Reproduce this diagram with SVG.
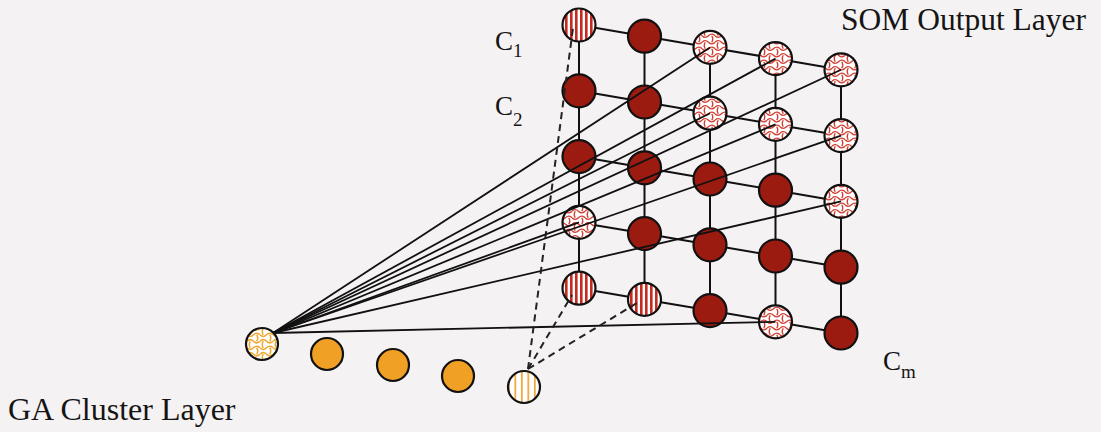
<svg xmlns="http://www.w3.org/2000/svg" width="1101" height="432" viewBox="0 0 1101 432">
<style>
.bg{fill:#f5f2f3}
.node{stroke:#111;stroke-width:2.2}
.solid{fill:#9b1b10}
.hatch{fill:url(#hatchRed)}
.stripe{fill:url(#stripeRed)}
.osolid{fill:#f0a024}
.ohatch{fill:url(#hatchOrange)}
.ostripe{fill:url(#stripeOrange)}
.grid line{stroke:#111;stroke-width:2}
.fan line{stroke:#111;stroke-width:1.8}
.dash line{stroke:#222;stroke-width:2;stroke-dasharray:7 5}
.lbl{font-family:"Liberation Serif","Times New Roman",serif;fill:#151515}
</style>
<defs>
<pattern id="hatchRed" patternUnits="userSpaceOnUse" width="13" height="13">
<rect width="13" height="13" fill="#fff"/>
<path d="M0,3.25 q3.25,-3.25 6.5,0 t6.5,0 M0,9.75 q3.25,3.25 6.5,0 t6.5,0 M3.25,3.25 q-2,3.25 0,6.5 M9.75,9.75 q2,3.25 0,6.5 M9.75,-3.25 q2,3.25 0,6.5" fill="none" stroke="#d23e32" stroke-width="1.4"/>
</pattern>
<pattern id="hatchOrange" patternUnits="userSpaceOnUse" width="13" height="13">
<rect width="13" height="13" fill="#fff"/>
<path d="M0,3.25 q3.25,-3.25 6.5,0 t6.5,0 M0,9.75 q3.25,3.25 6.5,0 t6.5,0 M3.25,3.25 q-2,3.25 0,6.5 M9.75,9.75 q2,3.25 0,6.5 M9.75,-3.25 q2,3.25 0,6.5" fill="none" stroke="#f0a830" stroke-width="1.5"/>
</pattern>
<pattern id="stripeRed" patternUnits="userSpaceOnUse" width="5" height="10">
<rect width="5" height="10" fill="#fff"/>
<rect x="0" width="2.6" height="10" fill="#c42a20"/>
</pattern>
<pattern id="stripeOrange" patternUnits="userSpaceOnUse" width="6.5" height="10">
<rect width="6.5" height="10" fill="#fff"/>
<rect x="1" width="1.6" height="10" fill="#f0a024"/>
</pattern>
</defs>
<rect class="bg" width="1101" height="432"/>

<g id="grid-connectors" class="grid">
<line x1="579" y1="25" x2="644.5" y2="36.2"/><line x1="644.5" y1="36.2" x2="710" y2="47.4"/><line x1="710" y1="47.4" x2="775.5" y2="58.6"/><line x1="775.5" y1="58.6" x2="841" y2="69.8"/>
<line x1="579" y1="90.8" x2="644.5" y2="102"/><line x1="644.5" y1="102" x2="710" y2="113.2"/><line x1="710" y1="113.2" x2="775.5" y2="124.4"/><line x1="775.5" y1="124.4" x2="841" y2="135.6"/>
<line x1="579" y1="156.6" x2="644.5" y2="167.8"/><line x1="644.5" y1="167.8" x2="710" y2="179"/><line x1="710" y1="179" x2="775.5" y2="190.2"/><line x1="775.5" y1="190.2" x2="841" y2="201.4"/>
<line x1="579" y1="222.4" x2="644.5" y2="233.6"/><line x1="644.5" y1="233.6" x2="710" y2="244.8"/><line x1="710" y1="244.8" x2="775.5" y2="256"/><line x1="775.5" y1="256" x2="841" y2="267.2"/>
<line x1="579" y1="288.2" x2="644.5" y2="299.4"/><line x1="644.5" y1="299.4" x2="710" y2="310.6"/><line x1="710" y1="310.6" x2="775.5" y2="321.8"/><line x1="775.5" y1="321.8" x2="841" y2="333"/>
<line x1="579" y1="25" x2="579" y2="288.2"/>
<line x1="644.5" y1="36.2" x2="644.5" y2="299.4"/>
<line x1="710" y1="47.4" x2="710" y2="310.6"/>
<line x1="775.5" y1="58.6" x2="775.5" y2="321.8"/>
<line x1="841" y1="69.8" x2="841" y2="333"/>
</g>

<g id="som-nodes">
<g id="s00"><circle class="node stripe" cx="579" cy="25" r="16.5"/></g>
<g id="s10"><circle class="node solid" cx="644.5" cy="36.2" r="16.5"/></g>
<g id="s20"><circle class="node hatch" cx="710" cy="47.4" r="16.5"/></g>
<g id="s30"><circle class="node hatch" cx="775.5" cy="58.6" r="16.5"/></g>
<g id="s40"><circle class="node hatch" cx="841" cy="69.8" r="16.5"/></g>

<g id="s01"><circle class="node solid" cx="579" cy="90.8" r="16.5"/></g>
<g id="s11"><circle class="node solid" cx="644.5" cy="102" r="16.5"/></g>
<g id="s21"><circle class="node hatch" cx="710" cy="113.2" r="16.5"/></g>
<g id="s31"><circle class="node hatch" cx="775.5" cy="124.4" r="16.5"/></g>
<g id="s41"><circle class="node hatch" cx="841" cy="135.6" r="16.5"/></g>

<g id="s02"><circle class="node solid" cx="579" cy="156.6" r="16.5"/></g>
<g id="s12"><circle class="node solid" cx="644.5" cy="167.8" r="16.5"/></g>
<g id="s22"><circle class="node solid" cx="710" cy="179" r="16.5"/></g>
<g id="s32"><circle class="node solid" cx="775.5" cy="190.2" r="16.5"/></g>
<g id="s42"><circle class="node hatch" cx="841" cy="201.4" r="16.5"/></g>

<g id="s03"><circle class="node hatch" cx="579" cy="222.4" r="16.5"/></g>
<g id="s13"><circle class="node solid" cx="644.5" cy="233.6" r="16.5"/></g>
<g id="s23"><circle class="node solid" cx="710" cy="244.8" r="16.5"/></g>
<g id="s33"><circle class="node solid" cx="775.5" cy="256" r="16.5"/></g>
<g id="s43"><circle class="node solid" cx="841" cy="267.2" r="16.5"/></g>

<g id="s04"><circle class="node stripe" cx="579" cy="288.2" r="16.5"/></g>
<g id="s14"><circle class="node stripe" cx="644.5" cy="299.4" r="16.5"/></g>
<g id="s24"><circle class="node solid" cx="710" cy="310.6" r="16.5"/></g>
<g id="s34"><circle class="node hatch" cx="775.5" cy="321.8" r="16.5"/></g>
<g id="s44"><circle class="node solid" cx="841" cy="333" r="16.5"/></g>
</g>

<g id="ga-nodes">
<g id="g0"><circle class="node ohatch" cx="262" cy="344" r="16"/></g>
<g id="g1"><circle class="node osolid" cx="327" cy="354" r="16"/></g>
<g id="g2"><circle class="node osolid" cx="393" cy="365" r="16"/></g>
<g id="g3"><circle class="node osolid" cx="458" cy="376" r="16"/></g>
<g id="g4"><circle class="node ostripe" cx="524" cy="387" r="16"/></g>
</g>

<g id="connectors">
<g class="fan">
<line x1="273" y1="333" x2="710" y2="47.4"/>
<line x1="273" y1="333" x2="775.5" y2="58.6"/>
<line x1="273" y1="333" x2="841" y2="69.8"/>
<line x1="273" y1="333" x2="710" y2="113.2"/>
<line x1="273" y1="333" x2="775.5" y2="124.4"/>
<line x1="273" y1="333" x2="841" y2="135.6"/>
<line x1="273" y1="333" x2="841" y2="201.4"/>
<line x1="273" y1="333" x2="579" y2="222.4"/>
<line x1="273" y1="333" x2="775.5" y2="321.8"/>
</g>
<g class="dash">
<line x1="528" y1="369" x2="573" y2="28"/>
<line x1="528" y1="369" x2="572" y2="295"/>
<line x1="528" y1="369" x2="637" y2="303"/>
</g>
</g>

<g id="labels" class="lbl">
<text x="841" y="30" font-size="31.5">SOM Output Layer</text>
<text x="8" y="420" font-size="32">GA Cluster Layer</text>
<text x="495" y="50" font-size="27">C<tspan font-size="19" dy="7">1</tspan></text>
<text x="495" y="115" font-size="27">C<tspan font-size="19" dy="11">2</tspan></text>
<text x="883" y="370" font-size="27">C<tspan font-size="19" dy="8">m</tspan></text>
</g>
</svg>
